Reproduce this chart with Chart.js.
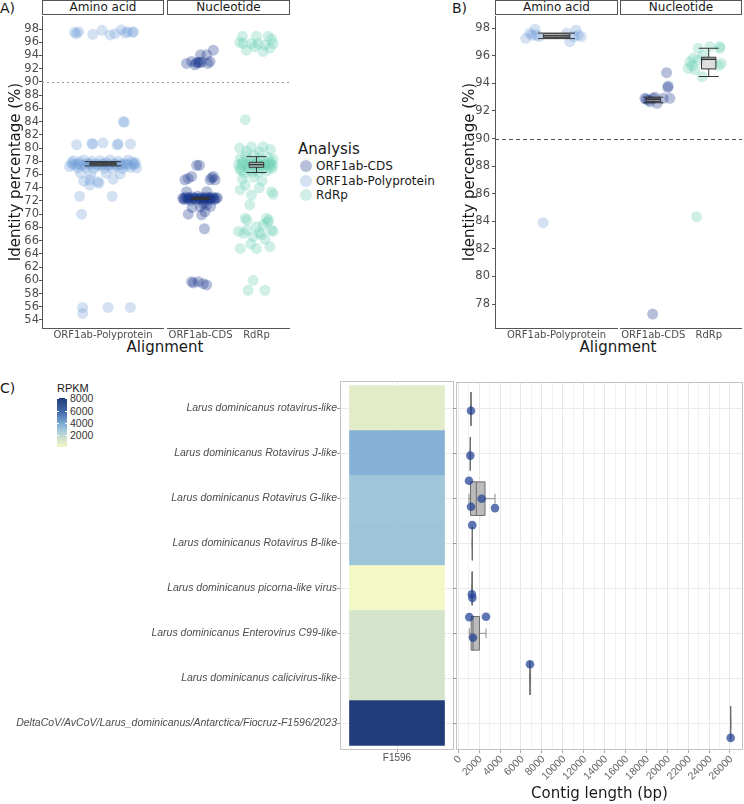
<!DOCTYPE html>
<html>
<head>
<meta charset="utf-8">
<title>Identity percentage and contig length</title>
<script src="https://cdn.jsdelivr.net/npm/chart.js@4.4.1/dist/chart.umd.min.js"></script>
<style>
  body { margin: 0; background: #fff; }
  #page { position: relative; width: 744px; height: 804px; overflow: hidden; font-family: 'DejaVu Sans', sans-serif; color: #1a1a1a; }
  #page canvas { position: absolute; }
  .tag { position: absolute; font-size: 14px; line-height: 17px; }
  .strip { position: absolute; top: 0; height: 15px; box-sizing: border-box; border: 1px solid #555; background: #fff; font-size: 12px; line-height: 13px; text-align: center; }
  .xtitle { position: absolute; top: 339px; font-size: 15px; line-height: 17px; transform: translateX(-50%); white-space: nowrap; }
  #legendA { position: absolute; left: 298px; top: 141px; }
  #legendA .ttl { font-size: 15px; line-height: 17px; margin-bottom: 1px; }
  #legendA .row { display: flex; align-items: center; height: 14.5px; font-size: 12px; }
  #legendA .dot { width: 12px; height: 12px; border-radius: 50%; margin: 0 4px 0 2px; }
  #rpkmKey { position: absolute; left: 57px; top: 382px; font-family: 'Liberation Sans', sans-serif; }
  #rpkmKey .ttl { font-size: 11px; line-height: 13px; }
  #rpkmKey .bar { position: absolute; left: 0; top: 15.7px; width: 10px; height: 49.5px; }
  #rpkmKey .lab { position: absolute; left: 13px; font-size: 10.5px; line-height: 14px; color: #333; }
  #rpkmKey .tk { position: absolute; height: 1px; width: 2px; background: #fff; }
</style>
</head>
<body>
<div id="page">
  <div class="tag" style="left:0;top:0">A)</div>
  <div class="tag" style="left:452px;top:0">B)</div>
  <div class="tag" style="left:0;top:380px">C)</div>
  <div class="strip" style="left:42px;width:122px">Amino acid</div>
  <div class="strip" style="left:167px;width:123px">Nucleotide</div>
  <div class="strip" style="left:495px;width:123px">Amino acid</div>
  <div class="strip" style="left:620px;width:122px">Nucleotide</div>
  <div class="xtitle" style="left:165px">Alignment</div>
  <div class="xtitle" style="left:618px">Alignment</div>
  <div id="legendA"></div>
  <div id="rpkmKey"></div>
  <canvas id="aAmino" width="164" height="332" style="left:0;top:16px"></canvas>
  <canvas id="aNuc" width="123" height="332" style="left:167px;top:16px"></canvas>
  <canvas id="bAmino" width="168" height="332" style="left:450px;top:16px"></canvas>
  <canvas id="bNuc" width="122" height="332" style="left:620px;top:16px"></canvas>
  <canvas id="heat" width="454" height="389" style="left:0;top:381px"></canvas>
  <canvas id="contig" width="290" height="422" style="left:453px;top:382px"></canvas>
</div>
<script>
// ---------- Panel A: identity (%) per hit, as [jitter offset from category, value] ----------
const polyA = [
    [-0.28, 97.5], [-0.26, 97.3], [-0.24, 97.6], [-0.10, 97.2], [-0.01, 97.8], [0.07, 97.1],
    [0.12, 97.3], [0.18, 97.9], [0.22, 97.4], [0.24, 97.6], [0.29, 97.5], [0.30, 97.6],
    [0.20, 84.0], [0.21, 83.9],
    [-0.26, 80.5], [-0.11, 80.7], [-0.10, 80.6], [0.00, 80.8], [0.14, 80.5], [0.15, 80.6], [0.27, 80.6],
    [-0.33, 77.2], [-0.31, 77.8], [-0.29, 78.1], [-0.27, 77.5], [-0.25, 77.0], [-0.23, 77.9],
    [-0.21, 77.4], [-0.19, 78.2], [-0.17, 77.1], [-0.15, 77.7], [-0.13, 77.5], [-0.11, 78.0],
    [-0.09, 76.9], [-0.07, 77.6], [-0.05, 77.3], [-0.03, 78.1], [-0.01, 77.5], [0.01, 77.0],
    [0.03, 77.8], [0.05, 77.4], [0.07, 78.2], [0.09, 76.9], [0.11, 77.6], [0.13, 77.3],
    [0.15, 78.0], [0.17, 77.5], [0.19, 76.9], [0.21, 77.7], [0.23, 77.4], [0.25, 78.2],
    [0.27, 77.1], [0.29, 77.9], [0.31, 77.5], [0.33, 77.0], [0.32, 77.8],
    [-0.30, 77.5], [-0.24, 77.6], [-0.18, 77.5], [-0.12, 77.6], [-0.06, 77.5], [0.00, 77.6],
    [0.06, 77.5], [0.12, 77.6], [0.18, 77.5], [0.24, 77.6], [0.30, 77.5],
    [-0.22, 76.2], [-0.12, 76.0], [0.03, 76.2], [0.17, 76.1], [-0.13, 75.2], [-0.05, 74.9],
    [-0.04, 74.7], [-0.13, 74.4], [-0.23, 72.7], [0.09, 72.7], [-0.21, 70.0], [-0.19, 75.0], [0.10, 75.3],
    [-0.20, 55.9], [-0.20, 55.0], [0.05, 55.9], [0.27, 55.9]
];
const cdsA = [
    [-0.25, 92.8], [-0.16, 93.1], [-0.10, 92.6], [-0.07, 92.9], [-0.04, 93.0], [-0.02, 92.9],
    [0.00, 94.1], [0.02, 93.0], [0.11, 94.1], [0.13, 92.8], [0.17, 93.1], [0.23, 94.8],
    [-0.07, 77.4], [-0.02, 77.4],
    [-0.22, 75.4], [-0.16, 75.7], [-0.28, 75.2], [0.23, 75.7], [0.26, 75.2], [0.17, 75.2], [0.20, 75.5],
    [-0.25, 73.4], [0.11, 73.4],
    [-0.32, 72.4], [-0.29, 72.2], [-0.26, 72.6], [-0.23, 72.3], [-0.20, 72.5], [-0.17, 72.1],
    [-0.14, 72.6], [-0.11, 72.4], [-0.08, 72.2], [-0.05, 72.7], [-0.02, 72.3], [0.01, 72.5],
    [0.04, 72.1], [0.07, 72.4], [0.10, 72.6], [0.13, 72.2], [0.16, 72.5], [0.19, 72.3],
    [0.22, 72.6], [0.25, 72.2], [0.28, 72.4], [0.30, 72.5],
    [-0.30, 72.4], [-0.21, 72.4], [-0.12, 72.4], [-0.03, 72.4], [0.06, 72.4], [0.15, 72.4], [0.24, 72.4],
    [0.11, 71.4], [0.00, 71.1], [0.05, 71.6], [-0.15, 71.0], [0.18, 71.2],
    [-0.22, 70.0], [0.02, 69.9], [0.08, 70.4], [0.07, 67.8],
    [-0.16, 59.8], [-0.04, 59.8], [0.05, 59.5], [0.11, 59.3], [-0.13, 59.6]
];
const rdrpA = [
    [-0.25, 96.9], [0.00, 96.9], [0.21, 96.9], [-0.24, 95.8], [-0.09, 95.8], [0.03, 95.8],
    [0.30, 95.8], [-0.18, 94.8], [0.12, 94.6], [0.24, 95.1], [-0.03, 95.3], [-0.30, 96.0],
    [0.15, 95.6], [0.27, 96.5],
    [-0.20, 84.3],
    [-0.30, 80.0], [0.12, 80.2], [-0.09, 80.2], [0.25, 79.8], [-0.18, 79.5], [0.05, 79.4],
    [-0.32, 77.5], [-0.29, 78.4], [-0.27, 76.6], [-0.24, 77.9], [-0.22, 76.2], [-0.19, 78.8],
    [-0.17, 77.2], [-0.14, 76.7], [-0.12, 78.2], [-0.09, 77.6], [-0.07, 76.4], [-0.04, 78.9],
    [-0.02, 77.0], [0.01, 77.8], [0.03, 76.3], [0.06, 78.5], [0.08, 77.3], [0.11, 76.8],
    [0.13, 78.1], [0.16, 77.5], [0.18, 76.5], [0.21, 78.6], [0.23, 77.1], [0.26, 77.9],
    [0.28, 76.9], [0.30, 78.3], [-0.30, 76.9], [0.29, 77.4],
    [-0.26, 77.5], [-0.16, 77.6], [-0.06, 77.5], [0.04, 77.6], [0.14, 77.5], [0.24, 77.6],
    [-0.29, 73.7], [-0.09, 72.9], [0.27, 73.4], [-0.12, 71.4], [-0.20, 74.4], [0.30, 73.0],
    [0.10, 75.0], [-0.25, 75.3], [0.05, 74.0], [-0.05, 75.6],
    [-0.20, 69.4], [0.18, 69.4], [0.22, 69.1], [-0.17, 67.6], [0.00, 68.1], [0.12, 68.4],
    [0.09, 66.9], [0.30, 67.4], [0.27, 67.6], [-0.23, 67.1], [-0.06, 66.6], [-0.29, 64.8],
    [0.00, 64.8], [0.24, 65.1], [-0.32, 67.4], [-0.17, 69.1], [0.05, 67.2], [0.15, 66.2],
    [-0.10, 65.5], [0.20, 68.8],
    [-0.15, 58.5], [-0.06, 60.0], [0.15, 58.5]
];
// box stats: [lower whisker, q1, median, q3, upper whisker]
const polyBoxA = [77.3, 77.45, 77.6, 77.8, 77.95];
const cdsBoxA = [72.2, 72.28, 72.38, 72.5, 72.55];
const rdrpBoxA = [76.3, 77.1, 77.5, 77.85, 78.7];
const identityTicksA = [54, 56, 58, 60, 62, 64, 66, 68, 70, 72, 74, 76, 78, 80, 82, 84, 86, 88, 90, 92, 94, 96, 98];

// ---------- Panel B ----------
const polyB = [
    [-0.30, 97.27], [-0.26, 97.64], [-0.21, 97.93], [-0.20, 97.51], [-0.24, 97.5], [-0.17, 97.4],
    [0.10, 97.64], [0.13, 97.03], [0.19, 97.88], [0.21, 97.51], [0.17, 97.39], [0.24, 97.4],
    [-0.13, 83.9]
];
const cdsB = [
    [-0.15, 92.92], [-0.08, 92.8], [0.00, 92.92], [0.07, 92.56], [0.18, 92.92], [0.30, 92.92],
    [0.24, 94.78], [0.27, 93.81], [0.26, 93.7], [-0.06, 92.67], [-0.13, 92.85], [0.03, 93.0],
    [-0.01, 77.27]
];
const rdrpB = [
    [-0.37, 95.1], [-0.34, 95.58], [-0.28, 95.82], [-0.19, 96.55], [-0.19, 95.7], [-0.12, 94.49],
    [-0.10, 96.06], [0.02, 96.67], [0.20, 96.55], [0.20, 96.67], [0.23, 95.46], [-0.25, 95.0],
    [-0.30, 95.3], [0.18, 95.3], [-0.22, 84.33]
];
const polyBoxB = [97.25, 97.32, 97.45, 97.6, 97.65];
const cdsBoxB = [92.6, 92.7, 92.85, 92.95, 93.0];
const rdrpBoxB = [94.5, 95.05, 95.75, 95.9, 96.55];
const identityTicksB = [78, 80, 82, 84, 86, 88, 90, 92, 94, 96, 98];

const analysisNames = ['ORF1ab-CDS', 'ORF1ab-Polyprotein', 'RdRp'];
const aminoLabels = ['ORF1ab-Polyprotein'];
const nucleotideLabels = ['ORF1ab-CDS', 'RdRp'];
const thresholdIdentity = 90;

// ---------- Panel C ----------
const virusNames = [
    'Larus dominicanus rotavirus-like',
    'Larus dominicanus Rotavirus J-like',
    'Larus dominicanus Rotavirus G-like',
    'Larus dominicanus Rotavirus B-like',
    'Larus dominicanus picorna-like virus',
    'Larus dominicanus Enterovirus C99-like',
    'Larus dominicanus calicivirus-like',
    'DeltaCoV/AvCoV/Larus_dominicanus/Antarctica/Fiocruz-F1596/2023'
];
const rpkm = [780, 3700, 2860, 2960, 60, 1300, 1300, 8100];
const rpkmTicks = [2000, 4000, 6000, 8000];
const sampleLabels = ['F1596'];
const contigRow = [1, 2, 3, 3, 3, 3, 4, 5, 5, 6, 6, 6, 7, 8];
const contigJitter = [0.04, 0.04, -0.40, 0.00, 0.18, 0.21, -0.41, 0.13, 0.21, -0.36, -0.37, 0.10, -0.31, 0.33];
const contigLength = [1215, 1150, 1024, 2240, 1215, 3512, 1340, 1300, 1350, 1053, 2650, 1406, 6862, 26070];
const contigBoxLo = [1215, 1150, 1024, 1340, 1300, 1053, 6862, 26070];
const contigBoxQ1 = [1215, 1150, 1167, 1340, 1312, 1229, 6862, 26070];
const contigBoxMed = [1215, 1150, 1727, 1340, 1325, 1406, 6862, 26070];
const contigBoxQ3 = [1215, 1150, 2558, 1340, 1338, 2028, 6862, 26070];
const contigBoxHi = [1215, 1150, 3512, 1340, 1350, 2650, 6862, 26070];
const lengthTicks = [0, 1000, 2000, 3000, 4000, 5000, 6000, 7000, 8000, 9000, 10000, 11000, 12000, 13000,
    14000, 15000, 16000, 17000, 18000, 19000, 20000, 21000, 22000, 23000, 24000, 25000, 26000];
const lengthLabels = [0, 2000, 4000, 6000, 8000, 10000, 12000, 14000, 16000, 18000, 20000, 22000, 24000, 26000];

// ---------- styles ----------
const analysisColors = ['rgba(15,45,135,0.3)', 'rgba(110,155,215,0.3)', 'rgba(100,205,175,0.3)'];
const rpkmStops = [
    [0, [243, 248, 198]], [0.155, [213, 227, 203]], [0.35, [160, 198, 217]],
    [0.46, [130, 175, 213]], [0.72, [65, 105, 170]], [1, [33, 60, 120]]
];
const rpkmMin = Math.min(...rpkm), rpkmMax = Math.max(...rpkm);

function rpkmColor(v) {
    const t = (v - rpkmMin) / (rpkmMax - rpkmMin);
    for (let i = 1; i < rpkmStops.length; i++) {
        const [t1, c1] = rpkmStops[i];
        const [t0, c0] = rpkmStops[i - 1];
        if (t <= t1) {
            const f = (t - t0) / (t1 - t0);
            return 'rgb(' + c0.map((c, k) => Math.round(c + f * (c1[k] - c))).join(',') + ')';
        }
    }
    return 'rgb(' + rpkmStops[rpkmStops.length - 1][1].join(',') + ')';
}

const isLabelled = v => lengthLabels.indexOf(Math.round(v)) >= 0;

// fixed axis box, no extra padding from overhanging labels
const fixBox = (w, h) => s => {
    if (w !== undefined) s.width = w;
    if (h !== undefined) s.height = h;
    s.paddingTop = 0; s.paddingBottom = 0; s.paddingLeft = 0; s.paddingRight = 0;
};

Chart.defaults.font.family = "'DejaVu Sans', sans-serif";
Chart.defaults.color = '#4d4d4d';
Chart.defaults.animation = false;
Chart.defaults.events = [];
Chart.defaults.plugins.legend.display = false;
Chart.defaults.plugins.tooltip.enabled = false;

// panel outline
const frame = color => ({
    id: 'frame',
    afterDraw(chart) {
        const {ctx, chartArea: a} = chart;
        ctx.save();
        ctx.strokeStyle = color;
        ctx.lineWidth = 1;
        ctx.strokeRect(a.left + 0.5, a.top + 0.5, a.width - 1, a.height - 1);
        ctx.restore();
    }
});

// horizontal threshold line
const refLine = (value, color, dash) => ({
    id: 'refLine',
    beforeDatasetsDraw(chart) {
        const {ctx, chartArea: a, scales: {y}} = chart;
        const py = Math.round(y.getPixelForValue(value)) + 0.5;
        ctx.save();
        ctx.strokeStyle = color;
        ctx.lineWidth = 1;
        ctx.setLineDash(dash);
        ctx.beginPath();
        ctx.moveTo(a.left, py);
        ctx.lineTo(a.right, py);
        ctx.stroke();
        ctx.restore();
    }
});

// 45 degree tick labels on the contig-length axis
const slantedLabels = {
    id: 'slantedLabels',
    afterDraw(chart) {
        const {ctx, chartArea: a, scales: {x}} = chart;
        ctx.save();
        ctx.font = "10.5px 'Liberation Sans', sans-serif";
        ctx.fillStyle = '#666';
        ctx.textAlign = 'right';
        ctx.textBaseline = 'middle';
        lengthLabels.forEach(v => {
            ctx.save();
            ctx.translate(x.getPixelForValue(v) + 1.5, a.bottom + 7.5);
            ctx.rotate(-Math.PI / 4);
            ctx.fillText(String(v), 0, 0);
            ctx.restore();
        });
        ctx.restore();
    }
};

// box and whiskers, drawn through the chart scales
function boxplots(stats, o) {
    const hook = o.under ? 'beforeDatasetsDraw' : 'afterDatasetsDraw';
    return {
        id: 'boxplots',
        [hook](chart) {
            const {ctx, scales: {x, y}} = chart;
            const vs = o.horizontal ? x : y, ps = o.horizontal ? y : x;
            const seg = (v1, p1, v2, p2) => {
                if (o.horizontal) { ctx.moveTo(v1, p1); ctx.lineTo(v2, p2); }
                else { ctx.moveTo(p1, v1); ctx.lineTo(p2, v2); }
            };
            ctx.save();
            stats.forEach(({at, s}) => {
                const [lo, q1, med, q3, hi] = s.map(v => vs.getPixelForValue(v));
                const c = ps.getPixelForValue(at);
                const hw = Math.abs(ps.getPixelForValue(at + o.width / 2) - c);
                const hc = Math.abs(ps.getPixelForValue(at + o.cap / 2) - c);
                ctx.lineWidth = 1;
                ctx.strokeStyle = o.whisker;
                ctx.beginPath();
                seg(lo, c, q1, c); seg(q3, c, hi, c);
                seg(lo, c - hc, lo, c + hc); seg(hi, c - hc, hi, c + hc);
                ctx.stroke();
                const v0 = Math.min(q1, q3), dv = Math.abs(q3 - q1);
                ctx.fillStyle = o.fill;
                ctx.strokeStyle = o.edge;
                ctx.beginPath();
                if (o.horizontal) ctx.rect(v0, c - hw, dv, 2 * hw);
                else ctx.rect(c - hw, v0, 2 * hw, dv);
                ctx.fill();
                ctx.stroke();
                ctx.lineWidth = o.medianWidth;
                ctx.beginPath();
                seg(med, c - hw, med, c + hw);
                ctx.stroke();
            });
            ctx.restore();
        }
    };
}

const boxStyleAB = {width: 0.26, cap: 0.36, fill: 'rgba(200,200,200,0.6)', edge: '#333', whisker: '#333', medianWidth: 1.5};

function identityFacet(id, cfg) {
    return new Chart(document.getElementById(id), {
        type: 'scatter',
        data: {
            datasets: cfg.series.map(sr => ({
                data: sr.points.map(([dx, v]) => ({x: sr.at + dx, y: v})),
                backgroundColor: sr.color,
                borderWidth: 0,
                pointRadius: 5.5,
                pointHoverRadius: 5.5
            }))
        },
        options: {
            responsive: false,
            layout: {padding: 0, autoPadding: false},
            scales: {
                x: {
                    type: 'linear', min: 0.4, max: cfg.categories.length + 0.6,
                    afterBuildTicks: s => { s.ticks = cfg.categories.map((_, i) => ({value: i + 1})); },
                    afterFit: fixBox(undefined, 20),
                    ticks: {callback: v => cfg.categories[Math.round(v) - 1], font: {size: 10}, color: '#4d4d4d', padding: 1, autoSkip: false, maxRotation: 0},
                    grid: {drawOnChartArea: false, drawTicks: false},
                    border: {display: true, color: '#555', width: 1}
                },
                y: {
                    display: cfg.yAxis, min: cfg.min, max: cfg.max,
                    afterBuildTicks: s => { s.ticks = cfg.ticks.map(v => ({value: v})); },
                    afterFit: fixBox(cfg.yAxis ? cfg.yWidth : undefined, undefined),
                    ticks: {font: {size: 11.5}, color: '#4d4d4d', padding: cfg.tickPad || 0, autoSkip: false},
                    grid: {drawOnChartArea: false, tickLength: 3, tickColor: '#555'},
                    border: {display: true, color: '#555', width: 1},
                    title: {display: true, text: 'Identity percentage (%)', color: '#1a1a1a', font: {size: 15}, padding: {top: cfg.titlePad || 0, bottom: 4}}
                }
            }
        },
        plugins: [
            refLine(thresholdIdentity, cfg.lineColor, cfg.dash),
            boxplots(cfg.series.map(sr => ({at: sr.at, s: sr.box})), boxStyleAB)
        ]
    });
}

// Panel A
const rangeA = {min: 52.79, max: 99.97, ticks: identityTicksA, lineColor: '#9a9a9a', dash: [2, 3]};
identityFacet('aAmino', Object.assign({}, rangeA, {
    categories: aminoLabels, yAxis: true, yWidth: 42, tickPad: 0, titlePad: 7,
    series: [{points: polyA, at: 1, color: analysisColors[1], box: polyBoxA}]
}));
identityFacet('aNuc', Object.assign({}, rangeA, {
    categories: nucleotideLabels, yAxis: false,
    series: [
        {points: cdsA, at: 1, color: analysisColors[0], box: cdsBoxA},
        {points: rdrpA, at: 2, color: analysisColors[2], box: rdrpBoxA}
    ]
}));

// Panel B
const rangeB = {min: 76.26, max: 98.89, ticks: identityTicksB, lineColor: '#555', dash: [4, 3]};
identityFacet('bAmino', Object.assign({}, rangeB, {
    categories: aminoLabels, yAxis: true, yWidth: 45, tickPad: 2, titlePad: 11,
    series: [{points: polyB, at: 1, color: analysisColors[1], box: polyBoxB}]
}));
identityFacet('bNuc', Object.assign({}, rangeB, {
    categories: nucleotideLabels, yAxis: false,
    series: [
        {points: cdsB, at: 1, color: analysisColors[0], box: cdsBoxB},
        {points: rdrpB, at: 2, color: analysisColors[2], box: rdrpBoxB}
    ]
}));

// legend for panel A
const legendA = document.getElementById('legendA');
legendA.innerHTML = '<div class="ttl">Analysis</div>' + analysisNames.map((n, i) =>
    '<div class="row"><span class="dot" style="background:' + analysisColors[i] + '"></span>' + n + '</div>').join('');

// RPKM colour key
const key = document.getElementById('rpkmKey');
const barH = 49.5;
const grad = rpkmStops.map(([t, c]) => 'rgb(' + c.join(',') + ') ' + (t * 100) + '%').join(',');
let keyHtml = '<div class="ttl">RPKM</div><div class="bar" style="background:linear-gradient(to top,' + grad + ')"></div>';
rpkmTicks.forEach(v => {
    const y = 15.7 + (rpkmMax - v) / (rpkmMax - rpkmMin) * barH;
    keyHtml += '<div class="lab" style="top:' + (y - 7) + 'px">' + v + '</div>';
    keyHtml += '<div class="tk" style="left:0;top:' + y + 'px"></div><div class="tk" style="left:8px;top:' + y + 'px"></div>';
});
key.innerHTML = keyHtml;

// Panel C: heatmap
const rowTicks = s => { s.ticks = virusNames.map((_, i) => ({value: i + 1})); };
new Chart(document.getElementById('heat'), {
    type: 'bar',
    data: {
        datasets: [{
            data: virusNames.map((_, i) => ({y: i + 1, x: [0.5, 1.5]})),
            backgroundColor: rpkm.map(rpkmColor),
            borderWidth: 0,
            barPercentage: 1,
            categoryPercentage: 1
        }]
    },
    options: {
        indexAxis: 'y',
        responsive: false,
        layout: {padding: 0, autoPadding: false},
        scales: {
            x: {
                type: 'linear', min: 0.4, max: 1.6,
                afterBuildTicks: s => { s.ticks = sampleLabels.map((_, i) => ({value: i + 1})); },
                afterFit: fixBox(undefined, 20),
                ticks: {callback: v => sampleLabels[Math.round(v) - 1], font: {family: "'Liberation Sans', sans-serif", size: 10}, color: '#4d4d4d', padding: 0},
                grid: {color: '#ebebeb', tickLength: 2, tickColor: '#999'},
                border: {display: false}
            },
            y: {
                type: 'linear', reverse: true, min: 0.4, max: 8.6, offset: false,
                afterBuildTicks: rowTicks,
                afterFit: fixBox(340, undefined),
                ticks: {callback: v => virusNames[Math.round(v) - 1], font: {family: "'Liberation Sans', sans-serif", size: 10.5, style: 'italic'}, color: '#4d4d4d', padding: 0, autoSkip: false},
                grid: {offset: false, color: '#ebebeb', tickLength: 3, tickColor: '#999'},
                border: {display: false}
            }
        }
    },
    plugins: [frame('#c4c4c4')]
});

// Panel C: contig lengths
new Chart(document.getElementById('contig'), {
    type: 'scatter',
    data: {
        datasets: [{
            data: contigLength.map((v, i) => ({x: v, y: contigRow[i] + contigJitter[i]})),
            backgroundColor: 'rgba(35,65,150,0.72)',
            borderWidth: 0,
            pointRadius: 4.3,
            pointHoverRadius: 4.3
        }]
    },
    options: {
        responsive: false,
        layout: {padding: 0, autoPadding: false},
        scales: {
            x: {
                type: 'linear', min: -220, max: 27250,
                afterBuildTicks: s => { s.ticks = lengthTicks.map(v => ({value: v})); },
                afterFit: fixBox(undefined, 54),
                ticks: {display: false},
                grid: {
                    color: c => (c.tick && isLabelled(c.tick.value)) ? '#e6e6e6' : '#f3f3f3',
                    tickLength: 3,
                    tickColor: c => (c.tick && isLabelled(c.tick.value)) ? '#aaa' : 'rgba(0,0,0,0)'
                },
                border: {display: false},
                title: {display: true, text: 'Contig length (bp)', color: '#1a1a1a', font: {size: 15}, padding: {top: 0, bottom: 1}}
            },
            y: {
                type: 'linear', reverse: true, min: 0.4, max: 8.6,
                afterBuildTicks: rowTicks,
                afterFit: fixBox(3, undefined),
                ticks: {display: false},
                grid: {color: '#ebebeb', tickLength: 3, tickColor: '#999'},
                border: {display: false}
            }
        }
    },
    plugins: [
        boxplots(contigBoxMed.map((_, i) => ({
            at: i + 1,
            s: [contigBoxLo[i], contigBoxQ1[i], contigBoxMed[i], contigBoxQ3[i], contigBoxHi[i]]
        })), {horizontal: true, under: true, width: 0.75, cap: 0.22, fill: 'rgba(175,175,175,0.85)', edge: '#6e6e6e', whisker: '#8c8c8c', medianWidth: 1}),
        frame('#c4c4c4'),
        slantedLabels
    ]
});
</script>
</body>
</html>
